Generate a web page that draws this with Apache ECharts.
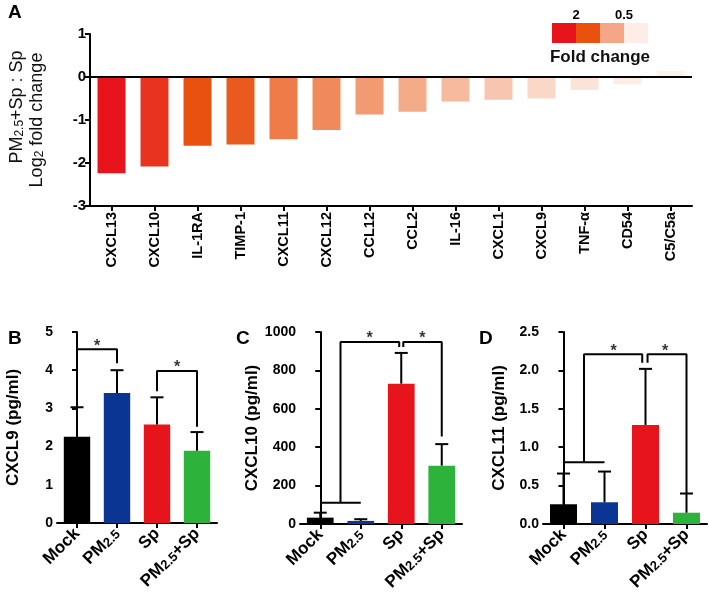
<!DOCTYPE html>
<html>
<head>
<meta charset="utf-8">
<script src="https://cdn.jsdelivr.net/npm/echarts@6/dist/echarts.min.js"></script>
<style>
  html, body { margin: 0; padding: 0; background: #fff; }
  #chart { width: 709px; height: 601px; }
</style>
</head>
<body>
<div id="chart"></div>
<script>
// panel A: log2 fold change
const catsA = ['CXCL13', 'CXCL10', 'IL-1RA', 'TIMP-1', 'CXCL11', 'CXCL12', 'CCL12', 'CCL2', 'IL-16', 'CXCL1', 'CXCL9', 'TNF-α', 'CD54', 'C5/C5a'];
const log2FC = [-2.24, -2.08, -1.60, -1.57, -1.45, -1.23, -0.87, -0.81, -0.57, -0.53, -0.50, -0.30, -0.17, 0.14];
const colorsA = ['#E8141C', '#E8331F', '#E8520E', '#E85A1E', '#EF7C48', '#F08A5A', '#F29A72', '#F4AB88', '#F6BA9E', '#F8C6B0', '#FAD8C8', '#FCE3D8', '#FDEDE6', '#FEF0EA'];
const legendColors = ['#E8141C', '#E8520E', '#F4A686', '#FEEDE6'];

// panels B-D
const groups = ['Mock', 'PM2.5', 'Sp', 'PM2.5+Sp'];
const groupColors = ['#000000', '#0A3593', '#E8141C', '#2DB33B'];
const cxcl9Mean = [2.26, 3.40, 2.58, 1.89];
const cxcl9Sd = [0.77, 0.60, 0.71, 0.49];
const cxcl10Mean = [33, 16, 731, 304];
const cxcl10Sd = [26, 9, 160, 112];
const cxcl11Mean = [0.257, 0.283, 1.29, 0.147];
const cxcl11Sd = [0.40, 0.40, 0.73, 0.25];

// significance brackets [x, y] (x in category units)
const bracketsB = [[[0, 3.44], [0, 4.55], [1, 4.55], [1, 4.18]], [[2, 3.45], [2, 3.98], [3, 3.98], [3, 2.52]]];
const starsB = [[0.5, 4.55], [2.5, 3.98]];
const bracketsC = [[[0, 111], [1, 111]], [[0.5, 111], [0.5, 948], [1.95, 948], [1.95, 922]], [[2.05, 922], [2.05, 948], [3, 948], [3, 456]]];
const starsC = [[1.22, 948], [2.52, 948]];
const bracketsD = [[[0, 0.805], [1, 0.805]], [[0.5, 0.805], [0.5, 2.21], [1.92, 2.21], [1.92, 2.10]], [[2.05, 2.10], [2.05, 2.21], [3, 2.21], [3, 0.40]]];
const starsD = [[1.22, 2.21], [2.48, 2.21]];

const FONT = 'Liberation Sans, Arial, sans-serif';
const axisLine = { show: true, lineStyle: { color: '#000', width: 2 } };
const axisTick = { show: true, length: 5, lineStyle: { color: '#000', width: 2 } };

function groupLabel(v) {
  return v.replace('PM2.5', '{b|PM}{s|2.5}').replace(/^([^{].*)$/, '{b|$1}').replace('}+Sp', '}{b|+Sp}');
}
const groupRich = {
  b: { fontFamily: FONT, fontWeight: 'bold', fontSize: 17, color: '#000' },
  s: { fontFamily: FONT, fontWeight: 'bold', fontSize: 13, color: '#000', verticalAlign: 'bottom' }
};

function errRender(params, api) {
  const i = api.value(0);
  const base = api.coord([i, api.value(1)]);
  const top = api.coord([i, api.value(1) + api.value(2)]);
  const st = { stroke: '#000', lineWidth: 2 };
  return {
    type: 'group',
    children: [
      { type: 'line', shape: { x1: base[0], y1: base[1], x2: top[0], y2: top[1] }, style: st },
      { type: 'line', shape: { x1: top[0] - 6.5, y1: top[1], x2: top[0] + 6.5, y2: top[1] }, style: st }
    ]
  };
}

const yLabel = { fontFamily: FONT, fontWeight: 'bold', fontSize: 14, color: '#000', margin: 4 };

// builds axes + series for one small bar panel
function panel(k, catIdx, valIdx, yIdx, name, means, sds, brackets, stars, yOpt, fmt) {
  const xAxes = [
    {
      type: 'category', gridIndex: k, data: groups,
      axisLine: axisLine, axisTick: Object.assign({ alignWithLabel: true }, axisTick),
      axisLabel: { rotate: 45, margin: 8, formatter: groupLabel, rich: groupRich }
    },
    { type: 'value', gridIndex: k, min: -0.5, max: 3.5, show: false }
  ];
  const yAxis = Object.assign({
    type: 'value', gridIndex: k, name: name, nameLocation: 'middle', nameGap: 35,
    nameTextStyle: { fontFamily: FONT, fontWeight: 'bold', fontSize: 17, color: '#000' },
    splitLine: { show: false }, axisLine: axisLine, axisTick: axisTick,
    axisLabel: Object.assign({ formatter: fmt }, yLabel)
  }, yOpt);
  const series = [
    {
      type: 'bar', xAxisIndex: catIdx, yAxisIndex: yIdx, barWidth: '66%',
      data: means.map((v, i) => ({ value: v, itemStyle: { color: groupColors[i] } }))
    },
    {
      type: 'custom', xAxisIndex: catIdx, yAxisIndex: yIdx, renderItem: errRender, z: 5,
      data: means.map((v, i) => [i, v, sds[i]])
    }
  ];
  brackets.forEach(b => series.push({
    type: 'line', xAxisIndex: valIdx, yAxisIndex: yIdx, data: b, symbol: 'none', z: 6,
    lineStyle: { color: '#000', width: 2 }
  }));
  series.push({
    type: 'scatter', xAxisIndex: valIdx, yAxisIndex: yIdx, data: stars, symbolSize: 0, z: 6,
    label: { show: true, position: 'top', distance: -5, formatter: '*', fontFamily: FONT, fontWeight: 'bold', fontSize: 16, color: '#000' }
  });
  return { xAxes, yAxis, series };
}

const pB = panel(1, 1, 2, 1, 'CXCL9 (pg/ml)', cxcl9Mean, cxcl9Sd, bracketsB, starsB, { min: 0, max: 5, interval: 1 }, v => String(v));
const pC = panel(2, 3, 4, 2, 'CXCL10 (pg/ml)', cxcl10Mean, cxcl10Sd, bracketsC, starsC, { min: 0, max: 1000, interval: 200 }, v => String(v));
const pD = panel(3, 5, 6, 3, 'CXCL11 (pg/ml)', cxcl11Mean, cxcl11Sd, bracketsD, starsD, { min: 0, max: 2.5, interval: 0.5 }, v => v.toFixed(1));

const titleRich = {
  n: { fontFamily: FONT, fontSize: 18, fill: '#111' },
  s: { fontFamily: FONT, fontSize: 12, fill: '#111', verticalAlign: 'bottom' }
};
const letter = (t, x, y) => ({ type: 'text', x: x, y: y, style: { text: t, font: 'bold 19px ' + FONT, fill: '#000', verticalAlign: 'middle' } });

const graphic = [
  letter('A', 8, 13), letter('B', 8, 339), letter('C', 236, 339), letter('D', 479, 339),
  { type: 'text', x: 17, y: 107, rotation: Math.PI / 2, style: { text: '{n|PM}{s|2.5}{n|+Sp : Sp}', rich: titleRich, align: 'center', verticalAlign: 'middle' } },
  { type: 'text', x: 37, y: 120, rotation: Math.PI / 2, style: { text: '{n|Log}{s|2}{n| fold change}', rich: titleRich, align: 'center', verticalAlign: 'middle' } },
  { type: 'text', x: 576, y: 15, style: { text: '2', font: 'bold 13px ' + FONT, fill: '#000', align: 'center', verticalAlign: 'middle' } },
  { type: 'text', x: 624, y: 15, style: { text: '0.5', font: 'bold 13px ' + FONT, fill: '#000', align: 'center', verticalAlign: 'middle' } },
  { type: 'text', x: 600, y: 57, style: { text: 'Fold change', font: 'bold 17px ' + FONT, fill: '#111', align: 'center', verticalAlign: 'middle' } }
].concat(legendColors.map((c, i) => ({ type: 'rect', shape: { x: 552 + 24 * i, y: 23, width: 24, height: 20 }, style: { fill: c } })));

const option = {
  animation: false,
  backgroundColor: '#fff',
  grid: [
    { left: 90, right: 17, top: 34, bottom: 395 },
    { left: 57, width: 160, top: 332, bottom: 78 },
    { left: 300, width: 162, top: 332, bottom: 77 },
    { left: 543, width: 164, top: 332, bottom: 77 }
  ],
  xAxis: [
    {
      type: 'category', gridIndex: 0, data: catsA,
      axisLine: Object.assign({ onZero: false }, axisLine),
      axisTick: Object.assign({ alignWithLabel: true }, axisTick),
      axisLabel: { rotate: 90, interval: 0, margin: 6, fontFamily: FONT, fontWeight: 'bold', fontSize: 14.5, color: '#000' }
    }
  ].concat(pB.xAxes, pC.xAxes, pD.xAxes),
  yAxis: [
    {
      type: 'value', gridIndex: 0, min: -3, max: 1, interval: 1,
      splitLine: { show: false }, axisLine: axisLine, axisTick: axisTick,
      axisLabel: { fontFamily: FONT, fontWeight: 'bold', fontSize: 15, color: '#000', margin: 4 }
    },
    pB.yAxis, pC.yAxis, pD.yAxis
  ],
  graphic: graphic,
  series: [
    {
      type: 'bar', xAxisIndex: 0, yAxisIndex: 0, barWidth: '65%',
      data: log2FC.map((v, i) => ({ value: v, itemStyle: { color: colorsA[i] } })),
      markLine: {
        silent: true, symbol: 'none', label: { show: false },
        lineStyle: { color: '#000', width: 2, type: 'solid' },
        data: [{ yAxis: 0 }]
      }
    }
  ].concat(pB.series, pC.series, pD.series)
};

const chart = echarts.init(document.getElementById('chart'));
chart.setOption(option);
</script>
</body>
</html>
